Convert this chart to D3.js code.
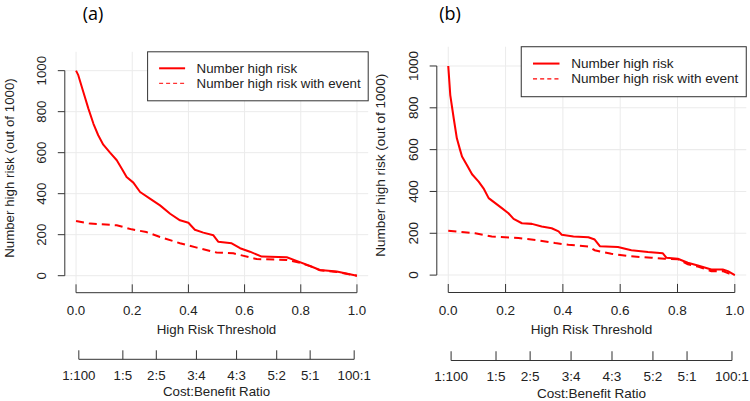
<!DOCTYPE html>
<html>
<head>
<meta charset="utf-8">
<script src="https://cdn.jsdelivr.net/npm/d3@7"></script>
<style>
  body { margin: 0; background: #fff; }
  svg text { font-family: "Liberation Sans", Arial, sans-serif; fill: #222; }
</style>
</head>
<body>
<div id="container"></div>
<script>
//DATA
const thresholdTicks = [0, 0.2, 0.4, 0.6, 0.8, 1.0]
const riskTicks = [0, 200, 400, 600, 800, 1000]
const costBenefitLabels = ["1:100", "1:5", "2:5", "3:4", "4:3", "5:2", "5:1", "100:1"]
const seriesNames = ["Number high risk", "Number high risk with event"]
const panelTitles = ["(a)", "(b)"]

// panel (a)
const thrRiskA = [0, 0.008, 0.026, 0.044, 0.062, 0.079, 0.097, 0.121, 0.145, 0.163, 0.180, 0.204, 0.228, 0.263, 0.299, 0.335, 0.370, 0.40, 0.423, 0.453, 0.489, 0.506, 0.554, 0.584, 0.619, 0.661, 0.75, 0.785, 0.833, 0.868, 0.928, 1.0]
const highRiskA = [1000, 978, 896, 815, 741, 685, 639, 600, 563, 522, 481, 454, 408, 376, 343, 302, 270, 258, 224, 210, 197, 166, 158, 134, 117, 93, 90, 72, 47, 28, 20, 0]
const thrEventA = [0, 0.05, 0.145, 0.198, 0.25, 0.299, 0.37, 0.43, 0.50, 0.56, 0.643, 0.75, 0.797, 0.845, 0.868, 0.928, 1.0]
const eventA = [267, 254, 246, 226, 213, 189, 158, 137, 113, 109, 81, 77, 63, 41, 26, 18, 0]

// panel (b)
const thrRiskB = [0, 0.007, 0.019, 0.030, 0.041, 0.048, 0.065, 0.083, 0.106, 0.123, 0.141, 0.164, 0.187, 0.21, 0.228, 0.257, 0.292, 0.326, 0.361, 0.385, 0.396, 0.437, 0.489, 0.511, 0.529, 0.592, 0.639, 0.697, 0.749, 0.761, 0.801, 0.836, 0.871, 0.918, 0.958, 0.976, 1.0]
const highRiskB = [1000, 861, 750, 654, 600, 567, 527, 482, 447, 415, 368, 344, 320, 296, 269, 248, 245, 232, 224, 209, 193, 185, 181, 170, 138, 134, 119, 110, 104, 83, 78, 59, 46, 27, 27, 19, 0]
const thrEventB = [0, 0.094, 0.152, 0.245, 0.315, 0.373, 0.419, 0.489, 0.511, 0.569, 0.627, 0.709, 0.755, 0.801, 0.836, 0.871, 0.918, 0.958, 0.98, 1.0]
const eventB = [212, 200, 185, 177, 166, 153, 145, 137, 119, 102, 91, 83, 78, 76, 52, 41, 19, 19, 8, 0]

//LAYOUT (base geometry for one panel; panel b is the same drawing slightly scaled)
const plot = {left: 64.8, right: 368.2, top: 51.8, bottom: 284.3}
const fontSize = 13.3

const panels = [
  {title: panelTitles[0], titleX: 93, risk: d3.zip(thrRiskA, highRiskA), event: d3.zip(thrEventA, eventA), tx: 0, ty: 0, k: 1},
  {title: panelTitles[1], titleX: 450, risk: d3.zip(thrRiskB, highRiskB), event: d3.zip(thrEventB, eventB), tx: 370.7, ty: -6.1, k: 1.02}
]

const svg = d3.select("#container")
  .append("svg")
  .attr("width", 750)
  .attr("height", 401)

// cost:benefit label -> threshold
const cbValue = s => { const [c, b] = s.split(":").map(Number); return c / (c + b) }

panels.forEach(p => {
  svg.append("text")
    .attr("x", p.titleX)
    .attr("y", 13)
    .attr("text-anchor", "middle")
    .attr("dominant-baseline", "central")
    .style("font-family", "'Open Sans', sans-serif")
    .style("font-size", "18px")
    .style("fill", "#000")
    .text(p.title)

  const g = svg.append("g")
    .attr("transform", `translate(${p.tx},${p.ty}) scale(${p.k})`)

  //SCALES
  const xScale = d3.scaleLinear().domain([-0.04, 1.04]).range([plot.left, plot.right])
  const yScale = d3.scaleLinear().domain([-42, 1092]).range([plot.bottom, plot.top])

  // grid
  g.append("g").selectAll("line")
    .data(thresholdTicks)
    .join("line")
    .attr("x1", d => xScale(d)).attr("x2", d => xScale(d))
    .attr("y1", plot.top).attr("y2", plot.bottom)
    .attr("stroke", "#ebebeb")
  g.append("g").selectAll("line")
    .data(riskTicks)
    .join("line")
    .attr("x1", plot.left).attr("x2", plot.right)
    .attr("y1", d => yScale(d)).attr("y2", d => yScale(d))
    .attr("stroke", "#ebebeb")

  // y axis
  const yAxis = g.append("g")
  yAxis.append("line")
    .attr("x1", plot.left).attr("x2", plot.left)
    .attr("y1", yScale(riskTicks[0])).attr("y2", yScale(riskTicks[riskTicks.length - 1]))
    .attr("stroke", "#333")
  yAxis.selectAll("line.tick")
    .data(riskTicks)
    .join("line")
    .attr("class", "tick")
    .attr("x1", plot.left - 7).attr("x2", plot.left)
    .attr("y1", d => yScale(d)).attr("y2", d => yScale(d))
    .attr("stroke", "#333")
  yAxis.selectAll("text")
    .data(riskTicks)
    .join("text")
    .attr("transform", d => `translate(${plot.left - 23},${yScale(d)}) rotate(-90)`)
    .attr("text-anchor", "middle")
    .attr("dominant-baseline", "central")
    .style("font-size", fontSize + "px")
    .text(d => d)
  g.append("text")
    .attr("transform", `translate(${plot.left - 55},${(plot.top + plot.bottom) / 2}) rotate(-90)`)
    .attr("text-anchor", "middle")
    .attr("dominant-baseline", "central")
    .style("font-size", fontSize + "px")
    .text("Number high risk (out of 1000)")

  // two bottom axes: threshold and cost:benefit
  const bottomAxes = [
    {ticks: thresholdTicks, pos: thresholdTicks, fmt: d3.format(".1f"), lineY: plot.bottom + 8.4, tickLen: 8.4, labelY: plot.bottom + 26.5, title: "High Risk Threshold", titleY: plot.bottom + 44.7},
    {ticks: costBenefitLabels, pos: costBenefitLabels.map(cbValue), fmt: d => d, lineY: plot.bottom + 75, tickLen: 9, labelY: plot.bottom + 90.7, title: "Cost:Benefit Ratio", titleY: plot.bottom + 107.4}
  ]
  bottomAxes.forEach(a => {
    const ax = g.append("g")
    ax.append("line")
      .attr("x1", xScale(a.pos[0])).attr("x2", xScale(a.pos[a.pos.length - 1]))
      .attr("y1", a.lineY).attr("y2", a.lineY)
      .attr("stroke", "#333")
    ax.selectAll("line.tick")
      .data(a.pos)
      .join("line")
      .attr("class", "tick")
      .attr("x1", d => xScale(d)).attr("x2", d => xScale(d))
      .attr("y1", a.lineY - a.tickLen).attr("y2", a.lineY)
      .attr("stroke", "#333")
    ax.selectAll("text.lab")
      .data(a.ticks)
      .join("text")
      .attr("class", "lab")
      .attr("x", (d, i) => xScale(a.pos[i]))
      .attr("y", a.labelY)
      .attr("text-anchor", "middle")
      .attr("dominant-baseline", "central")
      .style("font-size", fontSize + "px")
      .text(a.fmt)
    ax.append("text")
      .attr("x", xScale(0.5))
      .attr("y", a.titleY)
      .attr("text-anchor", "middle")
      .attr("dominant-baseline", "central")
      .style("font-size", fontSize + "px")
      .text(a.title)
  })

  // lines
  const lineGen = d3.line()
    .x(d => xScale(d[0]))
    .y(d => yScale(d[1]))

  g.append("path")
    .datum(p.event)
    .attr("fill", "none")
    .attr("stroke", "#ff0000")
    .attr("stroke-width", 2)
    .attr("stroke-dasharray", "8,5")
    .attr("d", lineGen)
  g.append("path")
    .datum(p.risk)
    .attr("fill", "none")
    .attr("stroke", "#ff0000")
    .attr("stroke-width", 2)
    .attr("stroke-linejoin", "round")
    .attr("d", lineGen)

  // legend
  const lg = g.append("g")
    .attr("transform", `translate(${plot.right - 220.6},${plot.top})`)
  lg.append("rect")
    .attr("width", 220.6)
    .attr("height", 49)
    .attr("fill", "#fff")
    .attr("stroke", "#333")
  seriesNames.forEach((name, i) => {
    const yy = 16.5 + i * 15
    lg.append("line")
      .attr("x1", 11.5).attr("x2", 37.5)
      .attr("y1", yy).attr("y2", yy)
      .attr("stroke", "#ff0000")
      .attr("stroke-width", i === 0 ? 2 : 1)
      .attr("stroke-dasharray", i === 0 ? null : "4,3")
    lg.append("text")
      .attr("x", 49)
      .attr("y", yy)
      .attr("dominant-baseline", "central")
      .style("font-size", fontSize + "px")
      .text(name)
  })
})
</script>
</body>
</html>
